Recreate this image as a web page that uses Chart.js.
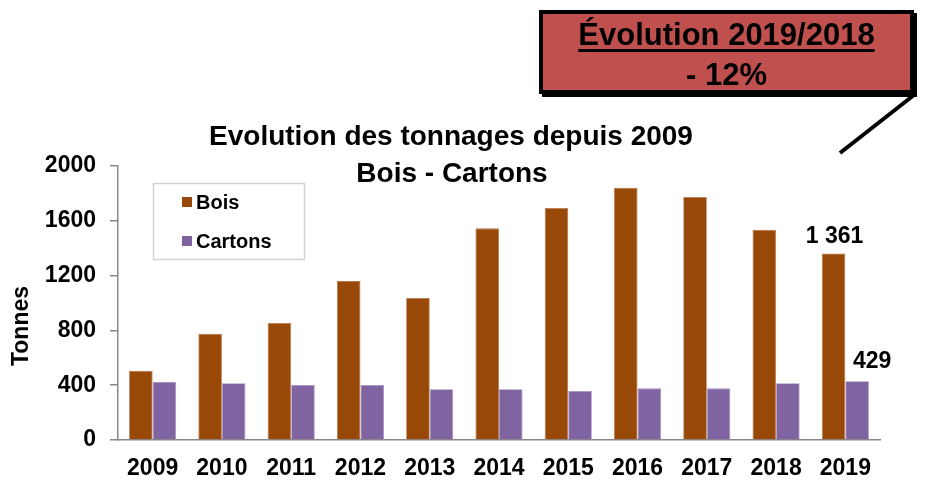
<!DOCTYPE html>
<html>
<head>
<meta charset="utf-8">
<script src="https://cdn.jsdelivr.net/npm/chart.js@4.4.0/dist/chart.umd.min.js"></script>
<style>
  html, body { margin: 0; padding: 0; background: #fff; }
  #wrap { position: relative; width: 945px; height: 482px; }
  #c { position: absolute; left: 0; top: 0; }
  #callout {
    position: absolute; left: 539px; top: 10px; width: 375px; height: 84px;
    box-sizing: border-box; border: 4px solid #000; background: #C0504D;
    box-shadow: 3px 3px 0 #000;
    font-family: 'Liberation Sans', Arial, sans-serif; font-weight: bold; color: #000;
    text-align: center;
  }
  #callout .l1 { position: absolute; left: 0; right: 0; top: 3px; font-size: 31px; line-height: 36px; text-decoration: underline; text-decoration-thickness: 3px; text-underline-offset: 4px; }
  #callout .l2 { position: absolute; left: 0; right: 0; top: 43px; font-size: 31px; line-height: 36px; }
  #leader { position: absolute; left: 0; top: 0; pointer-events: none; }
</style>
</head>
<body>
<div id="wrap">
  <canvas id="c" width="945" height="482"></canvas>
  <svg id="leader" width="945" height="482"><line x1="914" y1="95" x2="840" y2="153" stroke="#000" stroke-width="4"/></svg>
  <div id="callout"><div class="l1">Évolution 2019/2018</div><div class="l2">- 12%</div></div>
</div>
<script>
const categories = ['2009','2010','2011','2012','2013','2014','2015','2016','2017','2018','2019'];
const boisValues = [505, 776, 854, 1160, 1036, 1545, 1693, 1842, 1774, 1535, 1361];
const cartonsValues = [426, 414, 401, 401, 370, 370, 358, 377, 377, 414, 429];
const seriesNames = ['Bois', 'Cartons'];
const boisLabels = [null, null, null, null, null, null, null, null, null, null, '1 361'];
const cartonsLabels = [null, null, null, null, null, null, null, null, null, null, '429'];
const yTicks = [0, 400, 800, 1200, 1600, 2000];
const titleLines = ['Evolution des tonnages depuis 2009', 'Bois - Cartons'];
const yTitle = 'Tonnes';

const FONT = "'Liberation Sans', Arial, sans-serif";

const overlayPlugin = {
  id: 'overlay',
  afterDraw(chart) {
    const ctx = chart.ctx;
    ctx.save();
    // Title
    ctx.fillStyle = '#000';
    ctx.textAlign = 'center';
    ctx.textBaseline = 'middle';
    ctx.font = 'bold 28px ' + FONT;
    ctx.fillText(titleLines[0], 451, 137);
    ctx.fillText(titleLines[1], 452, 174);
    // Y title
    ctx.save();
    ctx.translate(22, 326);
    ctx.rotate(-Math.PI / 2);
    ctx.font = 'bold 23px ' + FONT;
    ctx.fillText(yTitle, 0, 0);
    ctx.restore();
    // Legend
    ctx.strokeStyle = '#d4d4d4';
    ctx.lineWidth = 1.5;
    ctx.strokeRect(153.5, 183.5, 151, 76);
    const ly = [202, 241];
    ctx.textAlign = 'left';
    ctx.font = 'bold 20px ' + FONT;
    chart.data.datasets.forEach((ds, i) => {
      ctx.fillStyle = ds.backgroundColor;
      ctx.fillRect(182, ly[i] - 5, 10, 10);
      ctx.fillStyle = '#000';
      ctx.fillText(ds.label, 196, ly[i] + 1);
    });
    // Data labels
    ctx.font = 'bold 23px ' + FONT;
    ctx.textAlign = 'center';
    const offs = [{dx: 1, dy: -17}, {dx: 15, dy: -20}];
    [boisLabels, cartonsLabels].forEach((labels, di) => {
      const meta = chart.getDatasetMeta(di);
      labels.forEach((t, i) => {
        if (!t) return;
        const el = meta.data[i];
        ctx.fillText(t, el.x + offs[di].dx, el.y + offs[di].dy);
      });
    });
    ctx.restore();
  }
};

new Chart(document.getElementById('c'), {
  type: 'bar',
  data: {
    labels: categories,
    datasets: [
      { label: seriesNames[0], data: boisValues, backgroundColor: '#984807', borderColor: '#b9764a', borderWidth: 0.8 },
      { label: seriesNames[1], data: cartonsValues, backgroundColor: '#8064A2', borderColor: '#a58fc0', borderWidth: 0.8 }
    ]
  },
  options: {
    responsive: false,
    animation: false,
    devicePixelRatio: 1,
    layout: { padding: { left: 0, right: 65, top: 166, bottom: 0 } },
    datasets: { bar: { barPercentage: 1.0, categoryPercentage: 0.68 } },
    plugins: { legend: { display: false }, title: { display: false }, tooltip: { enabled: false } },
    scales: {
      x: {
        afterFit(scale) { scale.height = 42; },
        grid: { display: true, drawOnChartArea: false, drawTicks: false },
        border: { display: true, color: '#888', width: 1.5 },
        ticks: { color: '#000', font: { family: FONT, size: 23, weight: 'bold' }, padding: 15, maxRotation: 0 }
      },
      y: {
        min: 0, max: 2000,
        afterFit(scale) { scale.width = 118; },
        afterBuildTicks(scale) { scale.ticks = yTicks.map(v => ({ value: v })); },
        grid: { display: true, drawOnChartArea: false, drawTicks: true, tickLength: 8, color: '#888', lineWidth: 1.5 },
        border: { display: true, color: '#888', width: 1.5 },
        ticks: { color: '#000', font: { family: FONT, size: 23, weight: 'bold' }, padding: 14, callback: (v) => String(v) }
      }
    }
  },
  plugins: [overlayPlugin]
});
</script>
</body>
</html>
